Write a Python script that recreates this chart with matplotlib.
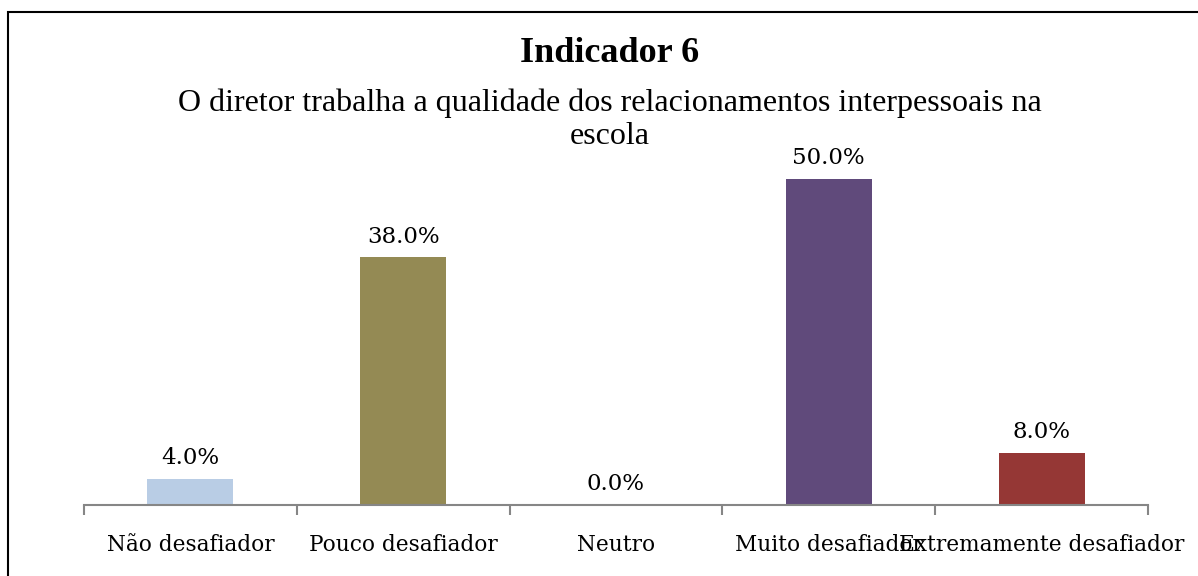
import matplotlib.pyplot as plt
from matplotlib.patches import Rectangle

# Data
categories = ['Não desafiador', 'Pouco desafiador', 'Neutro', 'Muito desafiador', 'Extremamente desafiador']
values = [4.0, 38.0, 0.0, 50.0, 8.0]
colors = ['#B9CDE5', '#948A54', '#8EB4E3', '#604A7B', '#953735']

title = 'Indicador 6'
subtitle_lines = ['O diretor trabalha a qualidade dos relacionamentos interpessoais na', 'escola']

fig = plt.figure(figsize=(11.98, 5.76), dpi=100)
ax = fig.add_axes([84 / 1198, 71 / 576, 1064 / 1198, 391 / 576])

x = list(range(len(categories)))
ax.bar(x, values, width=0.404, color=colors)

# Data labels
for xi, v in zip(x, values):
    ax.annotate(f'{v:.1f}%', (xi, v), xytext=(0, 7), textcoords='offset points',
                ha='center', va='bottom', fontsize=16.5, family='DejaVu Serif',
                annotation_clip=False)

ax.set_xlim(-0.5, len(categories) - 0.5)
ax.set_ylim(0, 60)

# Axis styling
for s in ['top', 'right', 'left']:
    ax.spines[s].set_visible(False)
ax.spines['bottom'].set_color('#868686')
ax.spines['bottom'].set_linewidth(1.5)
ax.set_yticks([])

ax.set_xticks(x)
ax.set_xticklabels(categories, fontsize=15.6, family='DejaVu Serif')
ax.tick_params(axis='x', which='major', length=0, pad=21)
ax.set_xticks([i - 0.5 for i in range(len(categories) + 1)], minor=True)
ax.tick_params(axis='x', which='minor', length=7, width=1.5, color='#868686')

# Title and subtitle (two lines, drawn separately)
fig.text(610 / 1198, 1 - 53 / 576, title, ha='center', va='center',
         fontsize=26, fontweight='bold', family='Liberation Serif')
for line, ypix in zip(subtitle_lines, [103, 136]):
    fig.text(610 / 1198, 1 - ypix / 576, line, ha='center', va='center',
             fontsize=23, family='Liberation Serif')

# Outer border
fig.patches.append(Rectangle((8 / 1198, -0.05), 1.1, 1 - 12 / 576 + 0.05,
                             transform=fig.transFigure, fill=False,
                             edgecolor='black', linewidth=1.5))

fig.savefig('out.png', dpi=100)
